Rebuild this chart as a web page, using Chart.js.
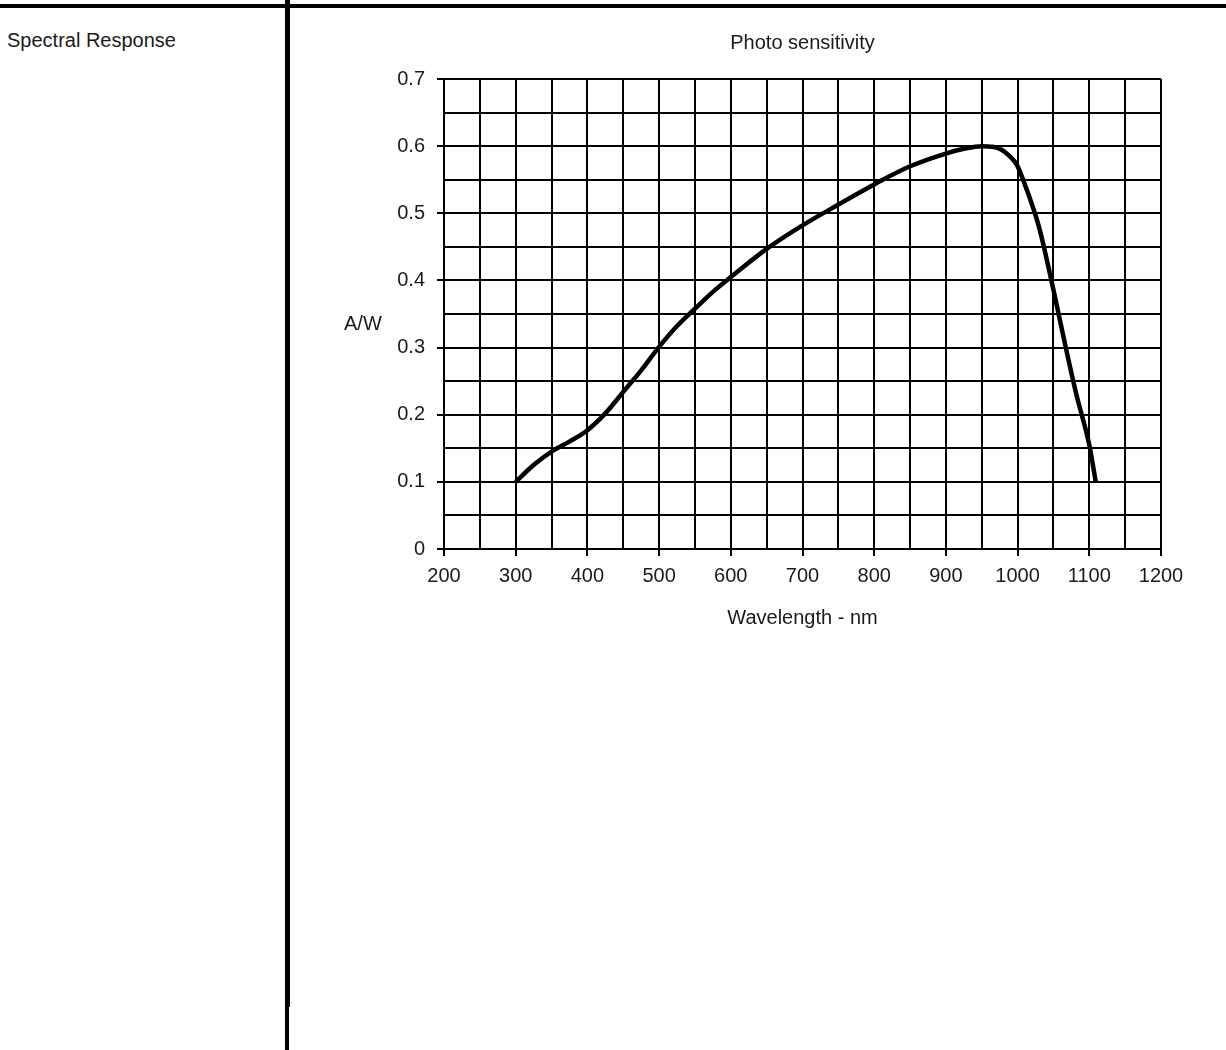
<!DOCTYPE html>
<html>
<head>
<meta charset="utf-8">
<script src="https://cdn.jsdelivr.net/npm/chart.js@4"></script>
<style>
  html, body { margin: 0; padding: 0; background: #fff; }
  body { width: 1226px; height: 1050px; position: relative; overflow: hidden;
         font-family: "Liberation Sans", Arial, sans-serif; }
  .hline { position: absolute; left: 0; top: 4px; width: 1226px; height: 3.5px; background: #000; }
  .vline1 { position: absolute; left: 285px; top: 0; width: 5px; height: 1007px; background: #000; }
  .vline2 { position: absolute; left: 285px; top: 1007px; width: 4px; height: 43px; background: #000; }
  .side { position: absolute; left: 7px; top: 28px; font-size: 20px; line-height: 24px; color: #1a1a1a; }
  #wrap { position: absolute; left: 300px; top: 10px; width: 926px; height: 690px; }
</style>
</head>
<body>
<div class="hline"></div>
<div class="vline1"></div>
<div class="vline2"></div>
<div class="side">Spectral Response</div>
<div id="wrap"><canvas id="chart" width="926" height="690"></canvas></div>

<script>
// wavelength (nm) and photo sensitivity (A/W)
const wavelengths = [300, 325, 350, 375, 400, 425, 450, 475, 500, 525, 550, 575, 600, 650, 700, 750,
  800, 850, 900, 925, 950, 965, 977, 989, 999, 1008, 1022, 1031, 1050, 1066, 1082, 1100, 1109];
const sensitivity = [0.100, 0.125, 0.145, 0.160, 0.177, 0.202, 0.234, 0.266, 0.301, 0.332, 0.358, 0.383,
  0.405, 0.447, 0.482, 0.513, 0.543, 0.570, 0.589, 0.596, 0.600, 0.599, 0.595, 0.585, 0.572, 0.549, 0.507,
  0.475, 0.386, 0.306, 0.230, 0.155, 0.100];

const xTickLabels = ["200", "300", "400", "500", "600", "700", "800", "900", "1000", "1100", "1200"];
const yTickLabels = ["0", "0.1", "0.2", "0.3", "0.4", "0.5", "0.6", "0.7"];

const chartTitle = "Photo sensitivity";
const xTitle = "Wavelength - nm";
const yTitle = "A/W";

const textColor = "#1a1a1a";
Chart.defaults.font.family = '"Liberation Sans", Arial, sans-serif';
Chart.defaults.font.size = 20;
Chart.defaults.color = textColor;

const isMajorX = (v) => Math.abs(v % 100) < 1e-6;
const isMajorY = (v) => Math.abs(v * 10 - Math.round(v * 10)) < 1e-6;

// horizontal "A/W" label left of the y axis
const yLabelPlugin = {
  id: "yLabel",
  afterDraw(chart) {
    const { ctx, chartArea } = chart;
    ctx.save();
    ctx.font = '20px "Liberation Sans", Arial, sans-serif';
    ctx.fillStyle = textColor;
    ctx.textAlign = "left";
    ctx.textBaseline = "middle";
    ctx.fillText(yTitle, chartArea.left - 100, (chartArea.top + chartArea.bottom) / 2 + 10);
    ctx.restore();
  }
};

new Chart(document.getElementById("chart"), {
  type: "line",
  data: {
    datasets: [{
      data: wavelengths.map((w, i) => ({ x: w, y: sensitivity[i] })),
      borderColor: "#000",
      borderWidth: 4.5,
      pointRadius: 0,
      cubicInterpolationMode: "monotone",
      fill: false
    }]
  },
  options: {
    responsive: false,
    animation: false,
    devicePixelRatio: 1,
    layout: { padding: { left: 0, top: 0, right: 65, bottom: 66 } },
    plugins: {
      legend: { display: false },
      tooltip: { enabled: false },
      title: {
        display: true,
        fullSize: false,
        text: chartTitle,
        color: textColor,
        font: { size: 20, weight: "normal" },
        padding: { top: 21, bottom: 24 }
      }
    },
    scales: {
      x: {
        type: "linear",
        min: 200,
        max: 1200,
        afterFit: (scale) => { scale.height = 85; },
        ticks: {
          stepSize: 50,
          autoSkip: false,
          maxRotation: 0,
          padding: 8,
          color: textColor,
          callback: (v) => isMajorX(v) ? xTickLabels[Math.round((v - 200) / 100)] : ""
        },
        grid: {
          color: "#000",
          lineWidth: 2,
          tickLength: 7,
          tickColor: (ctx) => isMajorX(ctx.tick.value) ? "#000" : "rgba(0,0,0,0)"
        },
        border: { color: "#000", width: 2 },
        title: { display: true, text: xTitle, color: textColor, font: { size: 20 } }
      },
      y: {
        min: 0,
        max: 0.7,
        afterFit: (scale) => { scale.width = 144; },
        ticks: {
          stepSize: 0.05,
          padding: 12,
          color: textColor,
          callback: (v) => isMajorY(v) ? yTickLabels[Math.round(v * 10)] : ""
        },
        grid: {
          color: "#000",
          lineWidth: 2,
          tickLength: 7,
          tickColor: (ctx) => isMajorY(ctx.tick.value) ? "#000" : "rgba(0,0,0,0)"
        },
        border: { color: "#000", width: 2 }
      }
    }
  },
  plugins: [yLabelPlugin]
});
</script>
</body>
</html>
